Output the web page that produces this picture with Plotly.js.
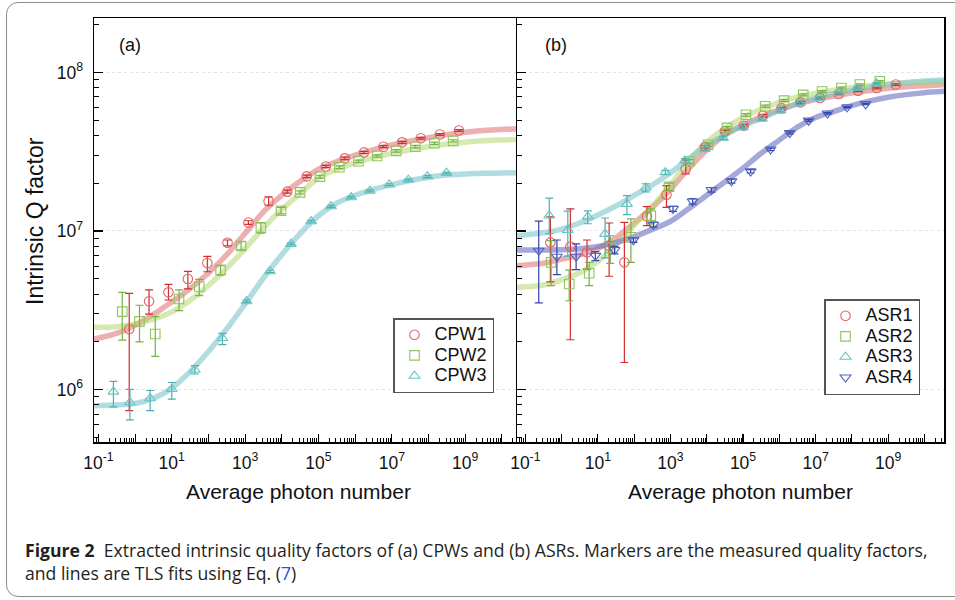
<!DOCTYPE html>
<html>
<head>
<meta charset="utf-8">
<script src="https://cdn.plot.ly/plotly-3.0.1.min.js"></script>
<style>
  html, body { margin: 0; padding: 0; background: #fff; overflow: hidden; }
  #chart { position: absolute; left: 0; top: 0; width: 955px; height: 600px; }
  #frame { position: absolute; left: 6px; top: 2px; width: 975px; height: 593px;
           border: 1.3px solid #8c8c8c; border-radius: 12px; pointer-events: none; }
</style>
</head>
<body>
<div id="chart"></div>
<div id="frame"></div>
<script>
// ---------- Panel (a): CPWs ----------
const cpw1N  = [0.692, 2.40, 8.13, 27.5, 93.3, 331, 1230, 4365, 14125, 47863, 158489, 524807, 1.74e6, 5.89e6, 1.91e7, 6.17e7, 2.04e8, 6.76e8];
const cpw1Q  = [2.41e6, 3.60e6, 4.10e6, 4.98e6, 6.28e6, 8.43e6, 1.13e7, 1.54e7, 1.77e7, 2.21e7, 2.55e7, 2.87e7, 3.13e7, 3.40e7, 3.62e7, 3.84e7, 4.06e7, 4.30e7];
const cpw1Up = [1.63e6, 0.65e6, 0.50e6, 0.58e6, 0.64e6, 0.34e6, 0.3e6, 1.0e6, 0.4e6, 0.4e6, 0.45e6, 0.5e6, 0.5e6, 0.5e6, 0.5e6, 0.5e6, 0.5e6, 0.5e6];
const cpw1Dn = [1.675e6, 0.61e6, 0.43e6, 0.67e6, 0.75e6, 0.39e6, 0.3e6, 0.9e6, 0.4e6, 0.4e6, 0.45e6, 0.5e6, 0.5e6, 0.5e6, 0.5e6, 0.5e6, 0.5e6, 0.5e6];

const cpw2N  = [0.447, 1.32, 3.55, 15.8, 56.2, 214, 776, 2692, 9550, 31623, 109648, 371535, 1.23e6, 3.98e6, 1.32e7, 4.37e7, 1.45e8, 4.68e8];
const cpw2Q  = [3.10e6, 2.69e6, 2.24e6, 3.72e6, 4.46e6, 5.68e6, 8.04e6, 1.05e7, 1.34e7, 1.75e7, 2.20e7, 2.52e7, 2.75e7, 2.97e7, 3.20e7, 3.40e7, 3.57e7, 3.70e7];
const cpw2Up = [1.0e6, 0.71e6, 0.64e6, 0.53e6, 0.49e6, 0.36e6, 0.51e6, 0.8e6, 0.7e6, 0.4e6, 0.45e6, 0.5e6, 0.5e6, 0.5e6, 0.6e6, 0.6e6, 0.6e6, 0.6e6];
const cpw2Dn = [1.05e6, 0.69e6, 0.62e6, 0.58e6, 0.55e6, 0.41e6, 0.45e6, 0.8e6, 0.6e6, 0.4e6, 0.45e6, 0.5e6, 0.5e6, 0.5e6, 0.6e6, 0.6e6, 0.6e6, 0.6e6];

const cpw3N  = [0.257, 0.724, 2.57, 10.0, 42.7, 240, 1096, 4786, 17783, 63096, 218776, 776247, 2.51e6, 8.51e6, 2.82e7, 9.33e7, 3.09e8];
const cpw3Q  = [9.68e5, 8.30e5, 8.79e5, 1.007e6, 1.33e6, 2.11e6, 3.60e6, 5.56e6, 8.28e6, 1.15e7, 1.43e7, 1.63e7, 1.79e7, 1.96e7, 2.10e7, 2.21e7, 2.32e7];
const cpw3Up = [1.57e5, 1.72e5, 1.07e5, 1.0e5, 0.83e5, 1.5e5, 0.6e5, 0.9e5, 1.2e5, 1.5e5, 2e5, 2e5, 2.5e5, 2.5e5, 3e5, 3e5, 3e5];
const cpw3Dn = [1.90e5, 1.86e5, 1.44e5, 1.36e5, 0.77e5, 1.9e5, 0.6e5, 0.9e5, 1.2e5, 1.5e5, 2e5, 2e5, 2.5e5, 2.5e5, 3e5, 3e5, 3e5];

// TLS fit curves, panel (a)
const fitNa   = [0.0759, 0.316, 1, 3.16, 10, 31.6, 100, 316, 1e3, 3.16e3, 1e4, 3.16e4, 1e5, 3.16e5, 1e6, 3.16e6, 1e7, 3.16e7, 1e8, 3.16e8, 1e9, 3.16e9, 1e10, 2.75e10];
const fitCpw1 = [2.08e6, 2.26e6, 2.54e6, 2.98e6, 3.56e6, 4.33e6, 5.43e6, 7.08e6, 9.66e6, 1.318e7, 1.683e7, 2.06e7, 2.45e7, 2.74e7, 3.01e7, 3.26e7, 3.49e7, 3.69e7, 3.87e7, 4.05e7, 4.19e7, 4.30e7, 4.37e7, 4.41e7];
const fitCpw2 = [2.47e6, 2.49e6, 2.59e6, 2.78e6, 3.09e6, 3.65e6, 4.53e6, 5.83e6, 7.74e6, 1.047e7, 1.365e7, 1.722e7, 2.16e7, 2.45e7, 2.69e7, 2.90e7, 3.09e7, 3.25e7, 3.41e7, 3.53e7, 3.63e7, 3.70e7, 3.75e7, 3.78e7];
const fitCpw3 = [7.91e5, 8.0e5, 8.17e5, 8.81e5, 1.019e6, 1.297e6, 1.738e6, 2.41e6, 3.47e6, 5.05e6, 7.08e6, 9.62e6, 1.247e7, 1.496e7, 1.679e7, 1.828e7, 1.959e7, 2.08e7, 2.18e7, 2.25e7, 2.29e7, 2.31e7, 2.32e7, 2.33e7];

// ---------- Panel (b): ASRs ----------
const asr1N  = [0.490, 1.74, 5.01, 20.4, 53.7, 224, 776, 2630, 8913, 31623, 104713, 354813, 1.15e6, 3.80e6, 1.32e7, 4.37e7, 1.48e8, 4.90e8, 1.62e9];
const asr1Q  = [8.47e6, 7.96e6, 7.33e6, 8.07e6, 6.34e6, 1.236e7, 1.694e7, 2.46e7, 3.39e7, 4.25e7, 4.61e7, 5.33e7, 5.93e7, 6.47e7, 6.90e7, 7.31e7, 7.67e7, 7.98e7, 8.38e7];
const asr1Up = [3.8e6, 5.8e6, 1.44e6, 3.15e6, 4.98e6, 1.86e6, 2.4e6, 3.5e6, 0.8e6, 0.8e6, 0.8e6, 0.9e6, 0.9e6, 1.0e6, 1.0e6, 1.0e6, 1.0e6, 1.0e6, 1.0e6];
const asr1Dn = [3.7e6, 5.9e6, 1.58e6, 2.89e6, 4.86e6, 1.57e6, 2.85e6, 1.7e6, 0.8e6, 0.8e6, 0.8e6, 0.9e6, 0.9e6, 1.0e6, 1.0e6, 1.0e6, 1.0e6, 1.0e6, 1.0e6];

const asr2N  = [0.513, 1.62, 5.75, 21.9, 81.3, 288, 912, 3311, 10965, 36308, 120226, 407380, 1.35e6, 4.57e6, 1.51e7, 5.13e7, 1.66e8, 5.89e8];
const asr2Q  = [6.34e6, 4.63e6, 5.41e6, 7.82e6, 9.12e6, 1.250e7, 1.90e7, 2.74e7, 3.50e7, 4.47e7, 5.40e7, 6.11e7, 6.64e7, 7.21e7, 7.57e7, 7.98e7, 8.38e7, 8.79e7];
const asr2Up = [2.35e6, 1.05e6, 0.93e6, 1.51e6, 2.79e6, 1.27e6, 1.0e6, 0.8e6, 0.8e6, 0.8e6, 1.0e6, 1.0e6, 1.0e6, 1.0e6, 1.0e6, 1.0e6, 1.0e6, 1.0e6];
const asr2Dn = [1.82e6, 1.0e6, 0.89e6, 1.57e6, 2.78e6, 1.43e6, 1.0e6, 0.8e6, 0.8e6, 0.8e6, 1.0e6, 1.0e6, 1.0e6, 1.0e6, 1.0e6, 1.0e6, 1.0e6, 1.0e6];

const asr3N  = [0.457, 1.48, 5.25, 15.8, 63.1, 209, 724, 2512, 8913, 28184, 97724, 331131, 1.07e6, 3.63e6, 1.26e7, 4.37e7, 1.41e8, 4.79e8];
const asr3Q  = [1.250e7, 1.014e7, 1.230e7, 9.57e6, 1.479e7, 1.875e7, 2.34e7, 2.78e7, 3.29e7, 3.86e7, 4.51e7, 5.09e7, 5.74e7, 6.38e7, 6.90e7, 7.43e7, 7.98e7, 8.53e7];
const asr3Up = [3.6e6, 3.2e6, 1.1e6, 2.5e6, 1.9e6, 1.1e6, 0.7e6, 0.8e6, 0.8e6, 0.8e6, 0.9e6, 0.9e6, 1.0e6, 1.0e6, 1.0e6, 1.0e6, 1.0e6, 1.0e6];
const asr3Dn = [2.9e6, 3.2e6, 1.2e6, 2.8e6, 2.1e6, 1.1e6, 0.7e6, 0.8e6, 0.8e6, 0.8e6, 0.9e6, 0.9e6, 1.0e6, 1.0e6, 1.0e6, 1.0e6, 1.0e6, 1.0e6];

const asr4N  = [0.234, 0.741, 2.51, 8.51, 28.8, 95.5, 339, 1175, 4074, 13490, 47863, 162181, 575440, 1.95e6, 6.46e6, 2.14e7, 7.41e7, 2.40e8];
const asr4Q  = [7.52e6, 6.89e6, 6.89e6, 6.98e6, 7.59e6, 8.77e6, 1.096e7, 1.380e7, 1.538e7, 1.816e7, 2.06e7, 2.38e7, 3.27e7, 4.15e7, 4.97e7, 5.52e7, 6.03e7, 6.32e7];
const asr4Up = [4.0e6, 1.88e6, 1.39e6, 0.42e6, 0.40e6, 0.3e6, 0.4e6, 0.5e6, 0.6e6, 0.6e6, 0.6e6, 0.6e6, 0.6e6, 0.6e6, 0.6e6, 0.6e6, 0.6e6, 0.6e6];
const asr4Dn = [4.0e6, 1.59e6, 1.19e6, 0.48e6, 0.43e6, 0.3e6, 0.4e6, 0.5e6, 0.6e6, 0.6e6, 0.6e6, 0.6e6, 0.6e6, 0.6e6, 0.6e6, 0.6e6, 0.6e6, 0.6e6];

// TLS fit curves, panel (b)
const fitNb   = [0.0589, 0.316, 1, 3.16, 10, 31.6, 100, 316, 1e3, 3.16e3, 1e4, 3.16e4, 1e5, 3.16e5, 1e6, 3.16e6, 1e7, 3.16e7, 1e8, 3.16e8, 1e9, 3.16e9, 1e10, 3.47e10];
const fitAsr1 = [6.04e6, 6.25e6, 6.64e6, 7.06e6, 7.74e6, 9.06e6, 1.122e7, 1.406e7, 1.828e7, 2.47e7, 3.24e7, 4.03e7, 4.68e7, 5.25e7, 5.82e7, 6.31e7, 6.73e7, 7.08e7, 7.41e7, 7.69e7, 7.93e7, 8.11e7, 8.24e7, 8.36e7];
const fitAsr2 = [4.41e6, 4.56e6, 4.92e6, 5.45e6, 6.40e6, 8.18e6, 1.086e7, 1.429e7, 1.95e7, 2.75e7, 3.62e7, 4.43e7, 5.19e7, 5.86e7, 6.46e7, 7.0e7, 7.38e7, 7.73e7, 8.02e7, 8.26e7, 8.43e7, 8.57e7, 8.67e7, 8.75e7];
const fitAsr3 = [9.33e6, 9.73e6, 1.028e7, 1.122e7, 1.259e7, 1.439e7, 1.675e7, 1.95e7, 2.33e7, 2.85e7, 3.45e7, 4.04e7, 4.61e7, 5.13e7, 5.75e7, 6.38e7, 6.89e7, 7.33e7, 7.73e7, 8.07e7, 8.38e7, 8.63e7, 8.81e7, 8.97e7];
const fitAsr4 = [7.59e6, 7.59e6, 7.60e6, 7.71e6, 7.98e6, 8.45e6, 9.20e6, 1.023e7, 1.148e7, 1.380e7, 1.679e7, 2.04e7, 2.49e7, 3.09e7, 3.74e7, 4.52e7, 5.19e7, 5.66e7, 6.17e7, 6.61e7, 6.97e7, 7.24e7, 7.45e7, 7.60e7];

// ---------- axis ticks and texts ----------
const xLabelled = [0.1, 10, 1e3, 1e5, 1e7, 1e9];
const xLabelText = ['10<sup>-1</sup>', '10<sup>1</sup>', '10<sup>3</sup>', '10<sup>5</sup>', '10<sup>7</sup>', '10<sup>9</sup>'];
const xUnlabelled = [1, 1e2, 1e4, 1e6, 1e8, 1e10];
const yMajor = [1e6, 1e7, 1e8];
const yMajorText = ['10<sup>6</sup>', '10<sup>7</sup>', '10<sup>8</sup>'];
const minorDigits = [2, 3, 4, 5, 6, 7, 8, 9];
const xMinor = [];
[0.01, 0.1, 1, 10, 1e2, 1e3, 1e4, 1e5, 1e6, 1e7, 1e8, 1e9, 1e10].forEach(d => minorDigits.forEach(k => xMinor.push(k * d)));
const yMinor = [];
[1e5, 1e6, 1e7, 1e8].forEach(d => minorDigits.forEach(k => yMinor.push(k * d)));
const xTitle = 'Average photon number';
const yTitle = 'Intrinsic Q factor';
const caption1 = '<b>Figure 2</b>  Extracted intrinsic quality factors of (a) CPWs and (b) ASRs. Markers are the measured quality factors,';
const caption2 = 'and lines are TLS fits using Eq. (<span style="color:#2b4fd6">7</span>)';

// ---------- styles ----------
const FONT = 'Liberation Sans, Arial, Helvetica, sans-serif';
const CAPFONT = 'Open Sans, Liberation Sans, sans-serif';
const C = {
  red:   {mk: '#e06464', err: '#d22c2c', fit: 'rgba(222,110,110,0.55)'},
  green: {mk: '#8fc65a', err: '#74b242', fit: 'rgba(176,212,110,0.52)'},
  cyan:  {mk: '#66c4c4', err: '#4cb0b0', fit: 'rgba(120,196,202,0.58)'},
  blue:  {mk: '#5262c2', err: '#3444a8', fit: 'rgba(100,106,192,0.58)'}
};

function fit(x, y, col, xa, ya) {
  return {x: x, y: y, xaxis: xa, yaxis: ya, mode: 'lines', showlegend: false, hoverinfo: 'skip',
          line: {color: col.fit, width: 5.5, shape: 'spline', smoothing: 0.8}};
}
function pts(name, x, y, up, dn, col, sym, xa, ya, leg) {
  return {x: x, y: y, name: '<span style="font-size:18px">' + name + '</span>', xaxis: xa, yaxis: ya, legend: leg,
          mode: 'markers', type: 'scatter',
          marker: {symbol: sym, size: 9.5, color: col.mk, line: {color: col.mk, width: 1.1}},
          error_y: {type: 'data', symmetric: false, array: up, arrayminus: dn, color: col.err, thickness: 1.2, width: 4}};
}
// empty holder so the overlay tick axes are laid out
function holder(xa, ya) {
  return {x: [], y: [], xaxis: xa, yaxis: ya, type: 'scatter', mode: 'markers', showlegend: false, hoverinfo: 'skip'};
}

const traces = [
  fit(fitNa, fitCpw1, C.red, 'x', 'y'),
  fit(fitNa, fitCpw2, C.green, 'x', 'y'),
  fit(fitNa, fitCpw3, C.cyan, 'x', 'y'),
  pts('CPW1', cpw1N, cpw1Q, cpw1Up, cpw1Dn, C.red, 'circle-open', 'x', 'y', 'legend'),
  pts('CPW2', cpw2N, cpw2Q, cpw2Up, cpw2Dn, C.green, 'square-open', 'x', 'y', 'legend'),
  pts('CPW3', cpw3N, cpw3Q, cpw3Up, cpw3Dn, C.cyan, 'triangle-up-open', 'x', 'y', 'legend'),
  fit(fitNb, fitAsr1, C.red, 'x2', 'y2'),
  fit(fitNb, fitAsr2, C.green, 'x2', 'y2'),
  fit(fitNb, fitAsr3, C.cyan, 'x2', 'y2'),
  fit(fitNb, fitAsr4, C.blue, 'x2', 'y2'),
  pts('ASR1', asr1N, asr1Q, asr1Up, asr1Dn, C.red, 'circle-open', 'x2', 'y2', 'legend2'),
  pts('ASR2', asr2N, asr2Q, asr2Up, asr2Dn, C.green, 'square-open', 'x2', 'y2', 'legend2'),
  pts('ASR3', asr3N, asr3Q, asr3Up, asr3Dn, C.cyan, 'triangle-up-open', 'x2', 'y2', 'legend2'),
  pts('ASR4', asr4N, asr4Q, asr4Up, asr4Dn, C.blue, 'triangle-down-open', 'x2', 'y2', 'legend2'),
  holder('x3', 'y'),
  holder('x4', 'y2')
];

const W = 955, H = 600;
function px(x) { return x / W; }
function py(y) { return 1 - y / H; }

function xAxis(range, dom, anchor) {
  return {type: 'log', range: range, domain: dom, anchor: anchor,
          showline: true, linecolor: '#000', linewidth: 1.5, mirror: true,
          ticks: 'inside', ticklen: 8, tickwidth: 1.1, tickcolor: '#000',
          tickmode: 'array', tickvals: xLabelled, ticktext: xLabelText, ticklabelstandoff: 4,
          tickfont: {family: FONT, size: 17.5, color: '#111'},
          minor: {tickmode: 'array', tickvals: xMinor, ticks: 'inside', ticklen: 4, tickwidth: 1, tickcolor: '#000', showgrid: false},
          showgrid: false, zeroline: false};
}
// overlay axis carrying the long ticks of the unlabelled decades
function xOverlay(range, base, anchor) {
  return {type: 'log', range: range, overlaying: base, anchor: anchor, side: 'bottom',
          showline: false, ticks: 'inside', ticklen: 8, tickwidth: 1.1, tickcolor: '#000',
          tickmode: 'array', tickvals: xUnlabelled, showticklabels: false,
          showgrid: false, zeroline: false};
}
function yAxis(dom, anchor, labels) {
  return {type: 'log', range: [5.669, 8.343], domain: dom, anchor: anchor,
          showline: true, linecolor: '#000', linewidth: 1.5, mirror: true,
          ticks: 'inside', ticklen: 9, tickwidth: 1.1, tickcolor: '#000',
          tickmode: 'array', tickvals: yMajor, ticktext: yMajorText,
          showticklabels: labels, ticklabelstandoff: 6,
          tickfont: {family: FONT, size: 17.5, color: '#111'},
          minor: {tickmode: 'array', tickvals: yMinor, ticks: 'inside', ticklen: 5, tickwidth: 1, tickcolor: '#000', showgrid: false},
          showgrid: true, gridcolor: 'rgba(200,200,235,0.55)', griddash: 'dot', gridwidth: 1, zeroline: false};
}

function note(text, x, y, size, extra) {
  return Object.assign({text: text, x: px(x), y: py(y), xref: 'paper', yref: 'paper', showarrow: false,
          xanchor: 'center', yanchor: 'middle', font: {family: FONT, size: size, color: '#111'}}, extra || {});
}

const legendStyle = {xanchor: 'left', yanchor: 'top', bgcolor: '#fff',
           bordercolor: '#555', borderwidth: 1.5, font: {family: FONT, size: 13.5, color: '#111'},
           tracegroupgap: 0, itemwidth: 30};

const yDom = [py(442), py(18)];
const rangeA = [-1.12, 10.44], rangeB = [-1.23, 10.54];
const layout = {
  width: W, height: H,
  margin: {l: 0, r: 0, t: 0, b: 0},
  paper_bgcolor: 'rgba(0,0,0,0)', plot_bgcolor: '#fff',
  showlegend: true,
  xaxis: xAxis(rangeA, [px(94), px(518)], 'y'),
  yaxis: yAxis(yDom, 'x', true),
  xaxis2: xAxis(rangeB, [px(517), px(944)], 'y2'),
  yaxis2: yAxis(yDom, 'x2', false),
  xaxis3: xOverlay(rangeA, 'x', 'y'),
  xaxis4: xOverlay(rangeB, 'x2', 'y2'),
  legend: Object.assign({x: px(393), y: py(318)}, legendStyle),
  legend2: Object.assign({x: px(824), y: py(299)}, legendStyle),
  annotations: [
    note('(a)', 130, 44.5, 18),
    note('(b)', 556, 44.5, 18),
    note(xTitle, 298, 491, 21),
    note(xTitle, 740, 491, 21),
    note(yTitle, 35, 221, 23, {textangle: -90}),
    note(caption1, 23, 550, 17.6, {xanchor: 'left', font: {family: CAPFONT, size: 17.6, color: '#231f20'}}),
    note(caption2, 23, 573, 17.6, {xanchor: 'left', font: {family: CAPFONT, size: 17.6, color: '#231f20'}})
  ]
};

Plotly.newPlot('chart', traces, layout, {displayModeBar: false, staticPlot: true});
</script>
</body>
</html>
